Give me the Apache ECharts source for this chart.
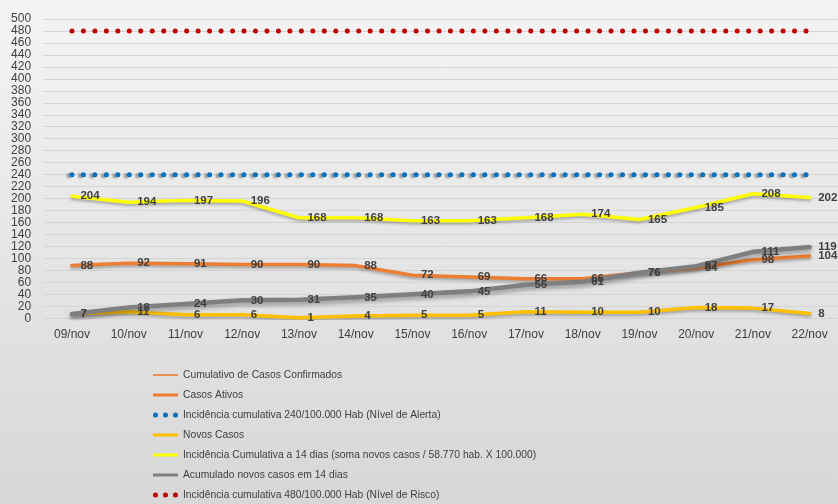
<!DOCTYPE html>
<html>
<head>
<meta charset="utf-8">
<script src="https://cdn.jsdelivr.net/npm/echarts@6/dist/echarts.min.js"></script>
<style>
html,body{margin:0;padding:0;background:#fff;}
#c{width:838px;height:504px;}
</style>
</head>
<body>
<div id="c"></div>
<script>
const categories = ['09/nov','10/nov','11/nov','12/nov','13/nov','14/nov','15/nov','16/nov','17/nov','18/nov','19/nov','20/nov','21/nov','22/nov'];
const cumulativoConfirmados = [];
const casosAtivos = [88,92,91,90,90,88,72,69,66,66,76,84,98,104];
const nivelAlerta = [240,240,240,240,240,240,240,240,240,240,240,240,240,240];
const novosCasos = [7,11,6,6,1,4,5,5,11,10,10,18,17,8];
const incidencia14 = [204,194,197,196,168,168,163,163,168,174,165,185,208,202];
const acumulado14 = [7,18,24,30,31,35,40,45,56,61,76,87,111,119];
const nivelRisco = [480,480,480,480,480,480,480,480,480,480,480,480,480,480];
const yTicks = {min: 0, max: 500, interval: 20};

const names = [
  'Cumulativo de Casos Confirmados',
  'Casos Ativos',
  'Incidência cumulativa 240/100.000 Hab (Nível de Alerta)',
  'Novos Casos',
  'Incidência Cumulativa a 14 dias (soma novos casos / 58.770 hab. X 100.000)',
  'Acumulado novos casos em 14 dias',
  'Incidência cumulativa 480/100.000 Hab (Nível de Risco)'
];

const FONT = '"Liberation Sans", Arial, sans-serif';
const lbl = {show: true, position: 'right', distance: 8, color: '#404040', fontSize: 11.5, fontWeight: 'bold', fontFamily: FONT};

function lineSeries(name, data, color, width, sh, extra) {
  return Object.assign({
    name: name, type: 'line', data: data,
    symbol: 'circle', symbolSize: 1, showSymbol: true,
    lineStyle: Object.assign({color: color, width: width, cap: 'round', join: 'round'}, sh),
    itemStyle: {color: 'rgba(0,0,0,0)', borderWidth: 0},
    label: lbl,
    labelLayout: {hideOverlap: false},
    emphasis: {disabled: true},
    animation: false
  }, extra || {});
}
function dotSeries(name, data, color, sh) {
  return {
    name: name, type: 'line', data: data, symbol: 'none',
    lineStyle: Object.assign({color: color, width: 5, type: [0, 11.47], cap: 'round'}, sh || {}),
    itemStyle: {color: color},
    emphasis: {disabled: true},
    animation: false
  };
}
const softShadow = {shadowColor: 'rgba(0,0,0,0.30)', shadowBlur: 3, shadowOffsetY: 2};
const grayShadow = {shadowColor: 'rgba(0,0,0,0.35)', shadowBlur: 4, shadowOffsetY: 3};
const dots = 'path://M0,2.5a2.5,2.5 0 1,0 5,0a2.5,2.5 0 1,0 -5,0ZM10,2.5a2.5,2.5 0 1,0 5,0a2.5,2.5 0 1,0 -5,0ZM20,2.5a2.5,2.5 0 1,0 5,0a2.5,2.5 0 1,0 -5,0Z';

const chart = echarts.init(document.getElementById('c'), null, {renderer: 'canvas'});
chart.setOption({
  animation: false,
  textStyle: {fontFamily: FONT},
  graphic: [{
    type: 'rect', z: -100, silent: true,
    shape: {x: 0, y: 0, width: 838, height: 504},
    style: {fill: new echarts.graphic.LinearGradient(0, 0, 0, 1, [
      {offset: 0, color: '#f4f4f4'}, {offset: 1, color: '#d7d7d7'}
    ])}
  }],
  grid: {left: 43.6, right: 0, top: 19, bottom: 185.7, containLabel: false},
  xAxis: {
    type: 'category', data: categories, boundaryGap: true,
    axisLine: {show: false}, axisTick: {show: false},
    axisLabel: {color: '#404040', fontSize: 12, margin: 10, fontFamily: FONT}
  },
  yAxis: {
    type: 'value', min: yTicks.min, max: yTicks.max, interval: yTicks.interval,
    axisLine: {show: false}, axisTick: {show: false},
    axisLabel: {color: '#404040', fontSize: 12, margin: 12.5, fontFamily: FONT},
    splitLine: {lineStyle: {color: '#d4d4d4', width: 1}}
  },
  legend: {
    orient: 'vertical', left: 153, top: 369, padding: 0, itemWidth: 25, itemHeight: 10, itemGap: 8,
    textStyle: {color: '#404040', fontSize: 10.3, lineHeight: 12, fontFamily: FONT},
    selectedMode: false,
    data: [
      {name: names[0], icon: 'path://M0,0L25,0L25,1.6L0,1.6Z', itemStyle: {color: '#ED7D31'}},
      {name: names[1], icon: 'path://M0,0L25,0L25,3L0,3Z', itemStyle: {color: '#ED7D31'}},
      {name: names[2], icon: dots, itemStyle: {color: '#0070C0'}},
      {name: names[3], icon: 'path://M0,0L25,0L25,3L0,3Z', itemStyle: {color: '#FFC000'}},
      {name: names[4], icon: 'path://M0,0L25,0L25,3L0,3Z', itemStyle: {color: '#FFFF00'}},
      {name: names[5], icon: 'path://M0,0L25,0L25,3L0,3Z', itemStyle: {color: '#7F7F7F'}},
      {name: names[6], icon: dots, itemStyle: {color: '#C00000'}}
    ]
  },
  series: [
    lineSeries(names[0], cumulativoConfirmados, '#ED7D31', 1.5, softShadow, {label: {show: false}}),
    lineSeries(names[1], casosAtivos, '#ED7D31', 3.5, softShadow),
    dotSeries(names[2], nivelAlerta, '#0070C0', {shadowColor: 'rgba(0,0,0,0.35)', shadowBlur: 2, shadowOffsetX: -3, shadowOffsetY: 1}),
    lineSeries(names[3], novosCasos, '#FFC000', 3.5, softShadow),
    lineSeries(names[4], incidencia14, '#FFFF00', 3.5, softShadow),
    lineSeries(names[5], acumulado14, '#7F7F7F', 4.5, grayShadow),
    dotSeries(names[6], nivelRisco, '#C00000')
  ]
});
</script>
</body>
</html>
